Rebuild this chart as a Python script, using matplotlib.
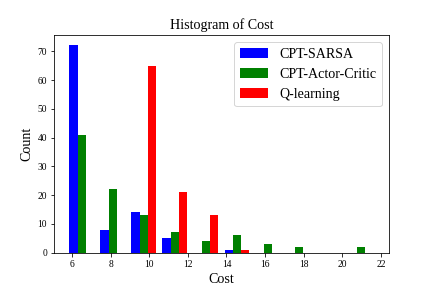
import matplotlib
matplotlib.use('Agg')
import matplotlib.pyplot as plt
import numpy as np

# cost range of the samples and bin count
COST_MIN, COST_MAX = 5.70, 21.78
N_BINS = 10

labels = ['CPT-SARSA', 'CPT-Actor-Critic', 'Q-learning']
colors = ['blue', 'green', 'red']

# counts per bin
sarsa = [72, 8, 14, 5, 0, 1, 0, 0, 0, 0]
actor_critic = [41, 22, 13, 7, 4, 6, 3, 2, 0, 2]
q_learning = [0, 0, 65, 21, 13, 1, 0, 0, 0, 0]

plt.rcParams['font.family'] = ['Liberation Serif', 'DejaVu Serif']

edges = np.linspace(COST_MIN, COST_MAX, N_BINS + 1)
centers = (edges[:-1] + edges[1:]) / 2

fig = plt.figure(figsize=(6, 4), dpi=72)
fig.subplots_adjust(left=0.125, right=0.9, bottom=0.123, top=0.878)
ax = fig.add_subplot(111)

ax.hist([centers, centers, centers], bins=edges,
        weights=[sarsa, actor_critic, q_learning],
        color=colors, label=labels)

ax.set_title('Histogram of Cost', fontsize=14)
ax.set_xlabel('Cost', fontsize=14)
ax.set_ylabel('Count', fontsize=14)
ax.tick_params(labelsize=9.5)
ax.set_xticks(np.arange(6, 23, 2))
ax.legend(loc='upper right', fontsize=14)

fig.savefig('out.png', dpi=72)
